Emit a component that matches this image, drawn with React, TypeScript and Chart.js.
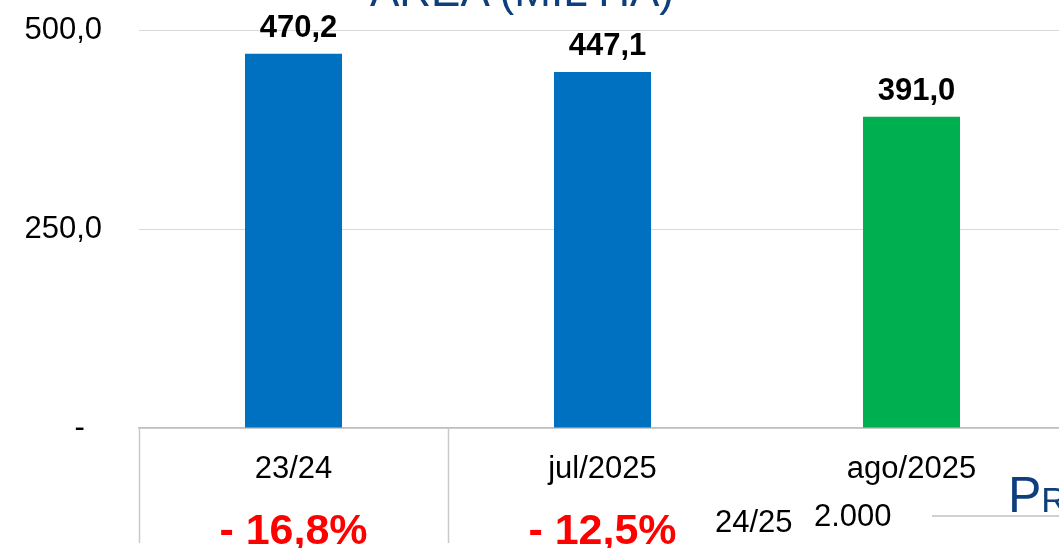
import React, { useEffect, useRef } from 'react';
import { Chart, registerables } from 'chart.js';

Chart.register(...registerables);

const categories = ['23/24', 'jul/2025', 'ago/2025'];
const areaValues = [470.2, 447.1, 391.0];
const barColors = ['#0070C0', '#0070C0', '#00B050'];
const changeLabels = ['- 16,8%', '- 12,5%', ''];
const yMin = 0;
const yMax = 500;
const yStep = 250;
const separatorBoundaries = [0, 1];

const fmt = (v: number) => v.toFixed(1).replace('.', ',');

const FONT = '"Liberation Sans", Arial, sans-serif';

const valueLabelPlugin = {
  id: 'valueLabels',
  afterDatasetsDraw(chart: any) {
    const ctx = chart.ctx;
    const meta = chart.getDatasetMeta(0);
    ctx.save();
    ctx.font = `bold 31px ${FONT}`;
    ctx.fillStyle = '#000';
    ctx.textAlign = 'center';
    ctx.textBaseline = 'alphabetic';
    meta.data.forEach((bar: any, i: number) => {
      ctx.fillText(fmt(areaValues[i]), bar.x + 5, bar.y - 17);
    });
    ctx.restore();
  },
};

const separatorPlugin = {
  id: 'separators',
  afterDraw(chart: any) {
    const ctx = chart.ctx;
    const x = chart.scales.x;
    const half = (x.getPixelForValue(1) - x.getPixelForValue(0)) / 2;
    ctx.save();
    ctx.strokeStyle = '#C9C9C9';
    ctx.lineWidth = 1.5;
    separatorBoundaries.forEach((b) => {
      const px = Math.round(x.getPixelForValue(b) - half) + 0.5;
      ctx.beginPath();
      ctx.moveTo(px, chart.chartArea.bottom);
      ctx.lineTo(px, 543);
      ctx.stroke();
    });
    ctx.restore();
  },
};

export default function App() {
  const ref = useRef<HTMLCanvasElement>(null);

  useEffect(() => {
    if (!ref.current) return;
    const chart = new Chart(ref.current, {
      type: 'bar',
      data: {
        labels: categories,
        datasets: [
          {
            data: areaValues,
            backgroundColor: barColors,
            borderWidth: 0,
            categoryPercentage: 1,
            barPercentage: 0.314,
          },
        ],
      },
      options: {
        animation: false,
        responsive: false,
        devicePixelRatio: 1,
        layout: { padding: { top: 30, left: 0, right: 0, bottom: 0 } },
        plugins: {
          legend: { display: false },
          tooltip: { enabled: false },
          title: { display: false },
        },
        scales: {
          y: {
            min: yMin,
            max: yMax,
            ticks: {
              stepSize: yStep,
              padding: 37,
              color: '#000',
              font: { family: FONT, size: 31 },
              callback: (v: any) => (Number(v) === 0 ? '-  ' : fmt(Number(v))),
            },
            grid: { color: '#D9D9D9', lineWidth: 1, drawTicks: false },
            border: { display: false },
            afterFit: (s: any) => {
              s.width = 139;
              s.paddingTop = 0;
              s.paddingBottom = 0;
            },
          },
          x: {
            type: 'category',
            position: 'bottom',
            offset: true,
            grid: { display: false, drawTicks: false },
            border: { display: true, color: '#BFBFBF', width: 1.5 },
            ticks: {
              padding: 23,
              color: '#000',
              font: { family: FONT, size: 31 },
              maxRotation: 0,
              autoSkip: false,
            },
            afterFit: (s: any) => {
              s.height = 85;
            },
          },
          x2: {
            type: 'category',
            position: 'bottom',
            labels: changeLabels,
            offset: true,
            grid: { display: false, drawTicks: false, offset: true },
            border: { display: false },
            ticks: {
              padding: -7,
              color: '#FF0000',
              font: { family: FONT, size: 43, weight: 'bold' },
              maxRotation: 0,
              autoSkip: false,
            },
            afterFit: (s: any) => {
              s.height = 47;
            },
          },
        },
      },
      plugins: [valueLabelPlugin, separatorPlugin],
    } as any);
    return () => chart.destroy();
  }, []);

  return (
    <div
      style={{
        position: 'absolute',
        left: 0,
        top: 0,
        width: 1059,
        height: 548,
        overflow: 'hidden',
        background: '#fff',
        fontFamily: FONT,
      }}
    >
      <canvas ref={ref} width={1066} height={560} style={{ position: 'absolute', left: 0, top: 0 }} />
      <div
        style={{
          position: 'absolute',
          left: 0,
          top: -31,
          width: 1044,
          textAlign: 'center',
          fontSize: 44,
          lineHeight: '44px',
          color: '#0F3E7C',
          whiteSpace: 'nowrap',
        }}
      >
        ÁREA (MIL HA)
      </div>
      <div style={{ position: 'absolute', left: 715, top: 506, fontSize: 31, lineHeight: '31px', color: '#000' }}>24/25</div>
      <div style={{ position: 'absolute', left: 814, top: 500, fontSize: 31, lineHeight: '31px', color: '#000' }}>2.000</div>
      <div
        style={{
          position: 'absolute',
          left: 932,
          top: 515,
          width: 140,
          height: 0,
          borderTop: '2px solid #D0D0D0',
        }}
      />
      <div
        style={{
          position: 'absolute',
          left: 1008,
          top: 470,
          fontSize: 50,
          lineHeight: '50px',
          color: '#0F3E7C',
          fontVariant: 'small-caps',
          whiteSpace: 'nowrap',
        }}
      >
        Produção
      </div>
    </div>
  );
}
